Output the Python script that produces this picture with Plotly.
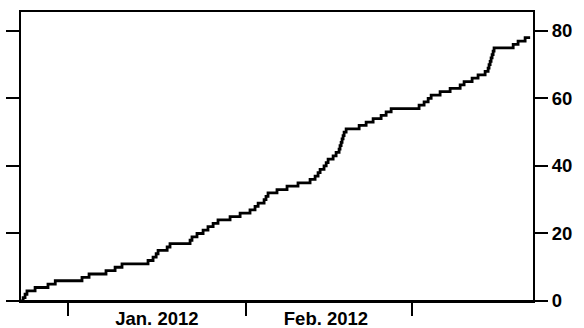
import plotly.graph_objects as go

# cumulative count step data
event_times = [
    "2011-12-23 19:00", "2011-12-24 04:00", "2011-12-24 12:00", "2011-12-24 20:00",
    "2011-12-26 06:00", "2011-12-28 12:00", "2011-12-29 18:30", "2012-01-03 10:30",
    "2012-01-04 16:00", "2012-01-07 15:00", "2012-01-09 05:00", "2012-01-10 10:00",
    "2012-01-14 23:00", "2012-01-15 20:00", "2012-01-16 09:00", "2012-01-16 17:00",
    "2012-01-18 07:00", "2012-01-18 19:00", "2012-01-22 07:00", "2012-01-22 15:00",
    "2012-01-23 12:00", "2012-01-24 13:30", "2012-01-25 10:00", "2012-01-26 07:30",
    "2012-01-27 04:00", "2012-01-29 06:30", "2012-01-31 00:30", "2012-02-01 18:00",
    "2012-02-02 15:00", "2012-02-03 04:00", "2012-02-04 05:00", "2012-02-04 13:00",
    "2012-02-04 21:30", "2012-02-06 11:00", "2012-02-08 05:00", "2012-02-10 03:00",
    "2012-02-12 05:30", "2012-02-13 02:30", "2012-02-13 15:00", "2012-02-13 23:30",
    "2012-02-14 16:00", "2012-02-15 01:00", "2012-02-15 09:00", "2012-02-16 06:00",
    "2012-02-16 18:30", "2012-02-17 07:00", "2012-02-17 11:00", "2012-02-17 15:30",
    "2012-02-17 19:30", "2012-02-17 23:45", "2012-02-18 04:00", "2012-02-18 12:30",
    "2012-02-20 19:00", "2012-02-22 00:15", "2012-02-23 05:30", "2012-02-24 15:00",
    "2012-02-25 12:00", "2012-02-26 09:00", "2012-03-02 06:00", "2012-03-03 03:00",
    "2012-03-03 20:00", "2012-03-04 08:30", "2012-03-05 22:00", "2012-03-07 16:00",
    "2012-03-09 10:00", "2012-03-10 02:30", "2012-03-11 12:00", "2012-03-12 13:00",
    "2012-03-13 18:30", "2012-03-14 07:00", "2012-03-14 11:00", "2012-03-14 15:30",
    "2012-03-14 19:30", "2012-03-14 23:45", "2012-03-15 04:00", "2012-03-15 08:00",
    "2012-03-18 16:00", "2012-03-19 12:30", "2012-03-20 18:00", "2012-03-21 15:00",
]
cumulative_count = [
    0, 1, 2, 3, 4, 5, 6, 7, 8, 9, 10, 11, 12, 13, 14, 15, 16, 17, 18, 19,
    20, 21, 22, 23, 24, 25, 26, 27, 28, 29, 30, 31, 32, 33, 34, 35, 36, 37, 38, 39,
    40, 41, 42, 43, 44, 45, 46, 47, 48, 49, 50, 51, 52, 53, 54, 55, 56, 57, 58, 59,
    60, 61, 62, 63, 64, 65, 66, 67, 68, 69, 70, 71, 72, 73, 74, 75, 76, 77, 78, 78,
]

month_ticks = ["2012-01-01", "2012-02-01", "2012-03-01"]
month_label_pos = ["2012-01-16 12:00", "2012-02-15"]
month_labels = ["Jan. 2012", "Feb. 2012"]
y_ticks = [0, 20, 40, 60, 80]
x_range = ["2011-12-23 19:00", "2012-03-22 03:00"]
y_range = [0, 85.6]

font = dict(family="Liberation Sans, Arial, sans-serif", size=18.5, color="black", weight="bold")

fig = go.Figure()
fig.add_trace(go.Scatter(
    x=event_times, y=cumulative_count, mode="lines",
    line=dict(shape="hv", color="black", width=2.8),
    showlegend=False, hoverinfo="skip",
))

fig.update_layout(
    width=584, height=328,
    margin=dict(l=21, r=51, t=12, b=27, autoexpand=False),
    paper_bgcolor="white", plot_bgcolor="white",
    font=font,
    xaxis=dict(
        type="date", range=x_range, automargin=False,
        tickmode="array", tickvals=month_label_pos, ticktext=month_labels,
        ticks="outside", ticklen=0, tickcolor="black",
        showline=True, linecolor="black", linewidth=2, mirror=True,
        showgrid=False, zeroline=False,
        tickfont=font,
        minor=dict(tickmode="array", tickvals=month_ticks, ticks="outside",
                   ticklen=13, tickwidth=2, tickcolor="black", showgrid=False),
    ),
    yaxis=dict(
        range=y_range, side="right", automargin=False,
        tickmode="array", tickvals=y_ticks,
        ticks="outside", ticklen=13, tickwidth=2, tickcolor="black",
        showline=True, linecolor="black", linewidth=2, mirror="ticks",
        showgrid=False, zeroline=False,
        tickfont=font,
    ),
    shapes=[dict(type="line", xref="paper", yref="paper",
                 x0=-14 / 512, x1=1 + 14 / 512, y0=0, y1=0,
                 line=dict(color="black", width=2))],
)

fig.write_html("out.html", config={"displayModeBar": False},
               post_script="document.body.style.margin='0px';")
